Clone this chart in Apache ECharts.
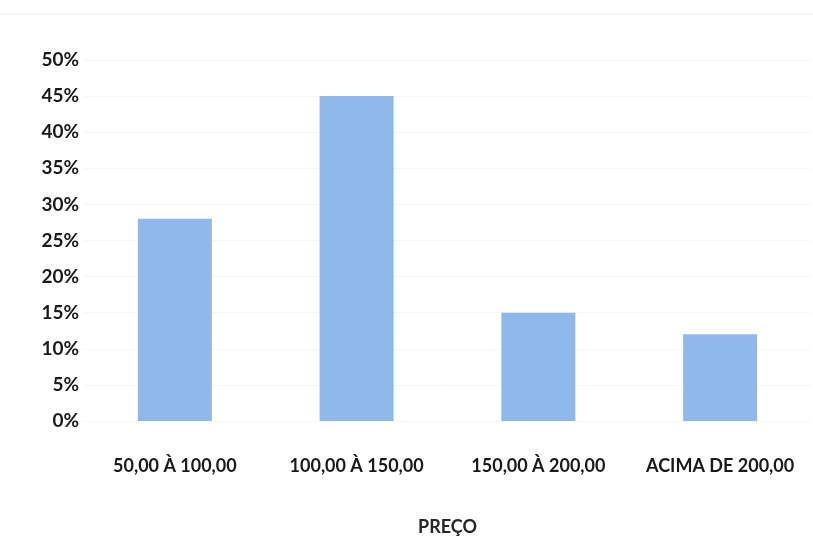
<!DOCTYPE html>
<html>
<head>
<meta charset="utf-8">
<script src="https://cdn.jsdelivr.net/npm/echarts@6/dist/echarts.min.js"></script>
<style>
  html, body { margin: 0; padding: 0; background: #ffffff; }
  #chart { width: 813px; height: 557px; }
</style>
</head>
<body>
<div id="chart"></div>
<script>
// Price ranges and share of responses (%)
const categories = ['50,00 À 100,00', '100,00 À 150,00', '150,00 À 200,00', 'ACIMA DE 200,00'];
const shares = [28, 45, 15, 12];
const yTicks = { min: 0, max: 50, interval: 5 };
const xAxisTitle = 'PREÇO';

const chart = echarts.init(document.getElementById('chart'), null, { renderer: 'canvas' });

const fontFamily = 'Lato, "Open Sans", sans-serif';

chart.setOption({
  animation: false,
  backgroundColor: '#ffffff',
  graphic: [{
    type: 'line',
    shape: { x1: 0, y1: 14, x2: 813, y2: 14 },
    style: { stroke: '#f0f0f0', lineWidth: 1 }
  }],
  grid: { left: 84, right: 2, top: 60, bottom: 136, containLabel: false },
  xAxis: {
    type: 'category',
    data: categories,
    name: xAxisTitle,
    nameLocation: 'middle',
    nameGap: 97,
    nameTextStyle: { fontFamily, fontWeight: 'bold', fontSize: 18, color: '#262626', letterSpacing: 3 },
    axisLine: { show: false },
    axisTick: { show: false },
    axisLabel: { fontFamily, fontWeight: 'bold', fontSize: 18, color: '#1a1a1a', margin: 36, interval: 0, letterSpacing: 0.8 }
  },
  yAxis: {
    type: 'value',
    min: yTicks.min,
    max: yTicks.max,
    interval: yTicks.interval,
    axisLine: { show: false },
    axisTick: { show: false },
    axisLabel: { fontFamily, fontWeight: 'bold', fontSize: 19, color: '#1a1a1a', margin: 5, formatter: '{value}%' },
    splitLine: { lineStyle: { color: '#f6f6f6', width: 1 } }
  },
  series: [{
    type: 'bar',
    data: shares,
    barWidth: 74,
    itemStyle: { color: '#90b9eb' }
  }]
});
</script>
</body>
</html>
